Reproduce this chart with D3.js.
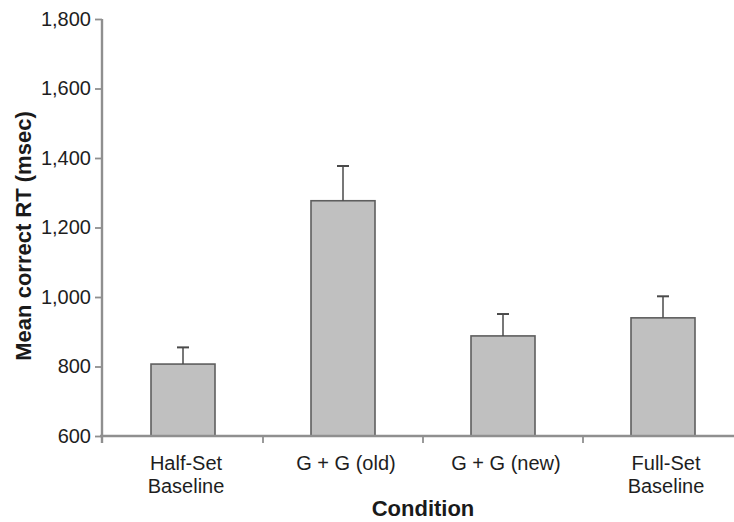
<!DOCTYPE html>
<html>
<head>
<meta charset="utf-8">
<script src="https://cdn.jsdelivr.net/npm/d3@7"></script>
<style>
  body { margin: 0; background: #fff; }
  svg { display: block; font-family: "Liberation Sans", Arial, Helvetica, sans-serif; }
</style>
</head>
<body>
<svg id="chart"></svg>
<script>
var conditions = ['Half-Set Baseline', 'G + G (old)', 'G + G (new)', 'Full-Set Baseline']
var labelLines = [['Half-Set', 'Baseline'], ['G + G (old)'], ['G + G (new)'], ['Full-Set', 'Baseline']]
var meanRT = [807, 1277, 888, 940]
var errRT = [48, 100, 63, 62]
var yTicks = [600, 800, 1000, 1200, 1400, 1600, 1800]

var width = 734, height = 522
var svg = d3.select('#chart')
    .attr('width', width)
    .attr('height', height)

var axisColor = '#8f8f8f'
var tickLen = 7

var yScale = d3.scaleLinear()
    .domain([600, 1800])
    .range([436, 19])

var xScale = d3.scaleBand()
    .domain(conditions)
    .range([103, 743])
    .padding(0)

var barW = xScale.bandwidth() * 0.4

// bars
svg.selectAll('rect.bar')
    .data(meanRT)
    .enter()
    .append('rect')
    .attr('class', 'bar')
    .attr('x', function (d, i) { return xScale(conditions[i]) + (xScale.bandwidth() - barW) / 2 })
    .attr('y', function (d) { return yScale(d) })
    .attr('width', barW)
    .attr('height', function (d) { return yScale(600) - yScale(d) })
    .attr('fill', '#c0c0c0')
    .attr('stroke', '#5e5e5e')
    .attr('stroke-width', 1.6)

// error bars (upper only)
var capW = 12
var err = svg.selectAll('g.err')
    .data(meanRT)
    .enter()
    .append('g')
    .attr('class', 'err')
    .attr('stroke', '#4a4a4a')
err.append('line')
    .attr('x1', function (d, i) { return xScale(conditions[i]) + xScale.bandwidth() / 2 })
    .attr('x2', function (d, i) { return xScale(conditions[i]) + xScale.bandwidth() / 2 })
    .attr('y1', function (d) { return yScale(d) })
    .attr('y2', function (d, i) { return yScale(d + errRT[i]) })
    .attr('stroke-width', 1.5)
err.append('line')
    .attr('x1', function (d, i) { return xScale(conditions[i]) + xScale.bandwidth() / 2 - capW / 2 })
    .attr('x2', function (d, i) { return xScale(conditions[i]) + xScale.bandwidth() / 2 + capW / 2 })
    .attr('y1', function (d, i) { return yScale(d + errRT[i]) })
    .attr('y2', function (d, i) { return yScale(d + errRT[i]) })
    .attr('stroke-width', 2)

// y axis
var yAxis = d3.axisLeft(yScale)
    .tickValues(yTicks)
    .tickFormat(d3.format(','))
    .tickSize(tickLen)
    .tickSizeOuter(0)
    .tickPadding(4)

var yG = svg.append('g')
    .attr('transform', 'translate(102,0)')
    .call(yAxis)
yG.select('.domain').remove()
yG.selectAll('.tick line').attr('stroke', axisColor).attr('stroke-width', 1.8)
yG.selectAll('.tick text')
    .attr('fill', '#1e1e1e')
    .style('font-size', '20px')
    .style('font-family', '"Liberation Sans", Arial, sans-serif')
yG.append('line')
    .attr('x1', 0).attr('x2', 0)
    .attr('y1', yScale(1800))
    .attr('y2', yScale(600) + tickLen)
    .attr('stroke', axisColor)
    .attr('stroke-width', 2.4)

// x axis line and category boundary ticks
var xG = svg.append('g')
xG.append('line')
    .attr('x1', 100).attr('x2', width)
    .attr('y1', yScale(600)).attr('y2', yScale(600))
    .attr('stroke', axisColor)
    .attr('stroke-width', 2.4)
xG.selectAll('line.bound')
    .data(conditions.slice(1))
    .enter()
    .append('line')
    .attr('class', 'bound')
    .attr('x1', function (d) { return xScale(d) })
    .attr('x2', function (d) { return xScale(d) })
    .attr('y1', yScale(600))
    .attr('y2', yScale(600) + tickLen)
    .attr('stroke', axisColor)
    .attr('stroke-width', 1.8)

// category labels
var labels = xG.selectAll('text.cat')
    .data(conditions)
    .enter()
    .append('text')
    .attr('class', 'cat')
    .attr('text-anchor', 'middle')
    .attr('fill', '#1e1e1e')
    .style('font-size', '20px')
labels.each(function (d, i) {
    var t = d3.select(this)
    labelLines[i].forEach(function (line, j) {
        t.append('tspan')
            .attr('x', xScale(d) + xScale.bandwidth() / 2 + 3)
            .attr('y', 470 + j * 23)
            .text(line)
    })
})

// axis titles
svg.append('text')
    .attr('x', (xScale.range()[0] + xScale.range()[1]) / 2)
    .attr('y', 516)
    .attr('text-anchor', 'middle')
    .attr('fill', '#1a1a1a')
    .style('font-size', '22px')
    .style('font-weight', 'bold')
    .text('Condition')

svg.append('text')
    .attr('transform', 'translate(31,236) rotate(-90)')
    .attr('text-anchor', 'middle')
    .attr('fill', '#1a1a1a')
    .style('font-size', '22px')
    .style('font-weight', 'bold')
    .text('Mean correct RT (msec)')
</script>
</body>
</html>
